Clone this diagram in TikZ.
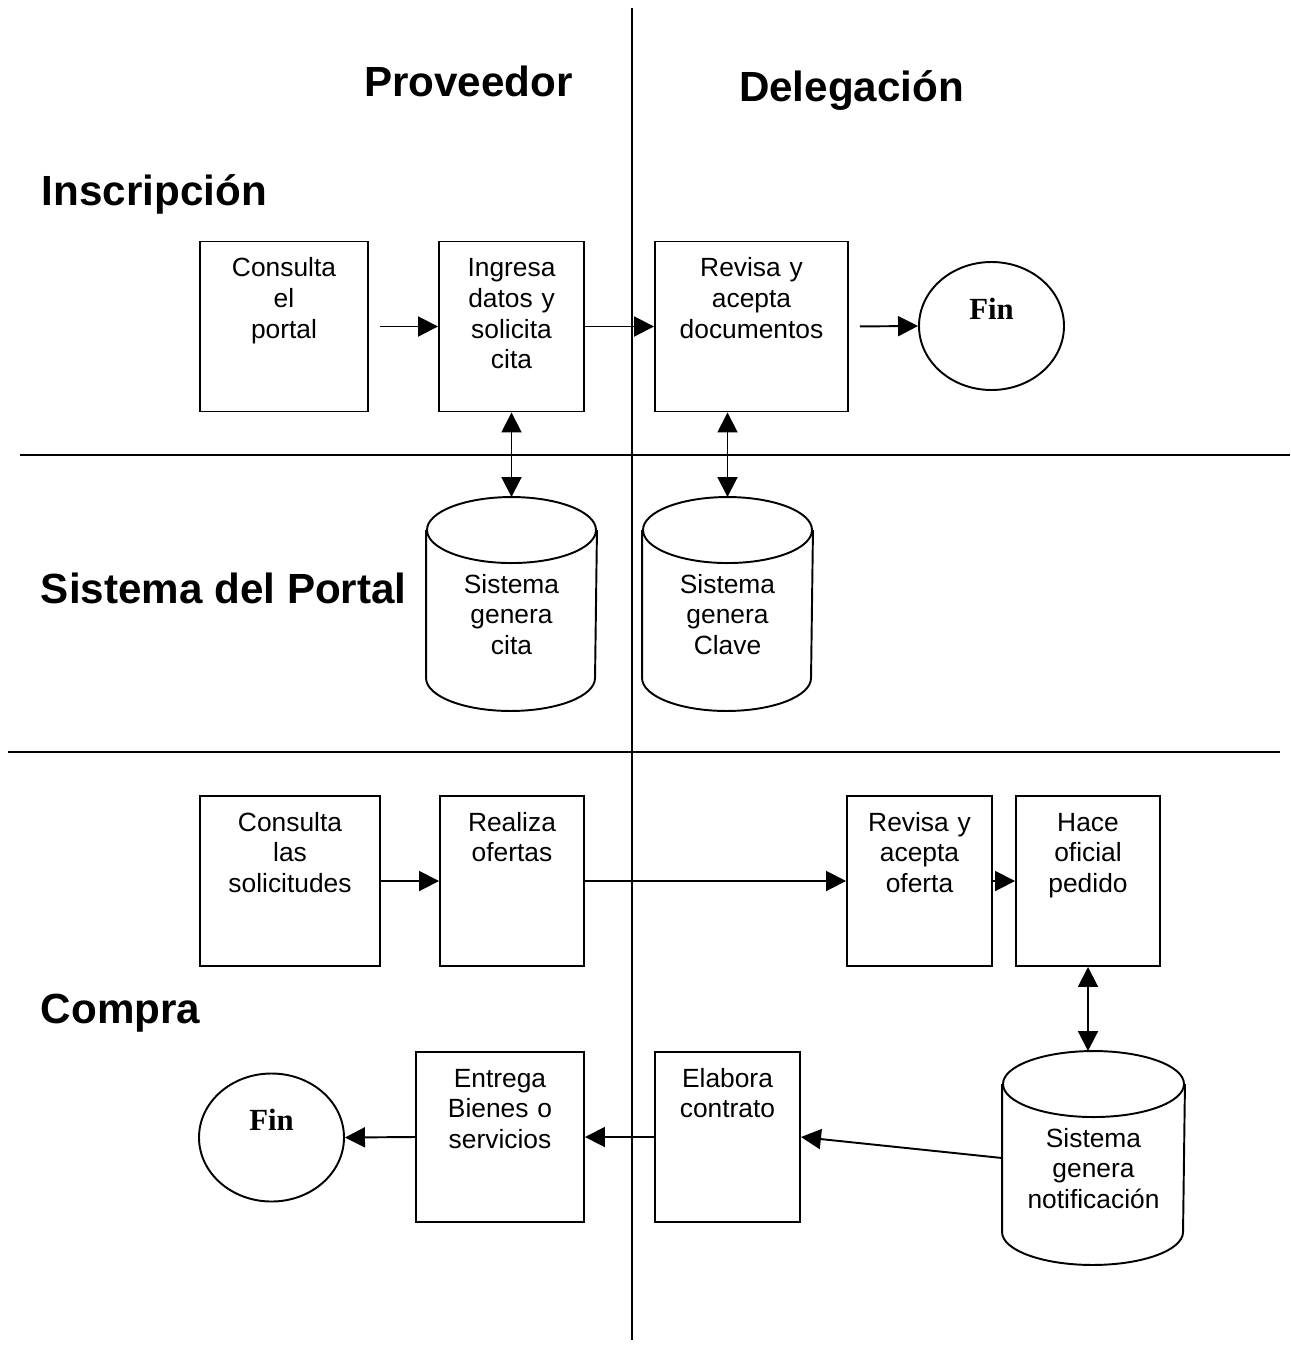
\documentclass[tikz,border=0pt]{standalone}
\usepackage{fontspec}
\setmainfont{Liberation Sans}
\newfontfamily\finfont{Liberation Serif}
\usetikzlibrary{arrows.meta,shapes.geometric}

\begin{document}
\begin{tikzpicture}[x=0.2mm,y=-0.2mm,line width=1.1pt,
  box/.style={draw,inner sep=0pt,align=center,text height=7mm,text depth=27mm,font=\fontsize{15}{17.5}\selectfont},
  cyl/.style={inner sep=0pt,align=center,text height=19mm,text depth=23.4mm,font=\fontsize{15}{17.5}\selectfont},
  fin/.style={draw,ellipse,inner sep=0pt,minimum width=29mm,minimum height=25.6mm,text height=4mm,text depth=6.8mm,font=\finfont\bfseries\fontsize{17.5}{20}\selectfont},
  head/.style={inner sep=0pt,font=\bfseries\fontsize{24}{28}\selectfont},
  arr/.style={-{Triangle[length=4mm,width=4mm]}},
  darr/.style={{Triangle[length=4mm,width=4mm]}-{Triangle[length=4mm,width=4mm]}}]
\useasboundingbox (0,0) rectangle (1290,1348);

\draw (632,8) -- (632,1340);
\draw (20,455) -- (1290,455);
\draw (8,752) -- (1280,752);

\node[head,anchor=base] (prov) at (468.5,96) {Proveedor};
\node[head,anchor=base] (dele) at (851.5,101) {Delegación};
\node[head,anchor=base west] (ins) at (41,205) {Inscripción};
\node[head,anchor=base west] (sis) at (40,603) {Sistema del Portal};
\node[head,anchor=base west] (com) at (40,1023) {Compra};

\node[box,text width=33.6mm] (b1) at (284,326.5) {Consulta\\el\\portal};
\node[box,text width=29mm] (b2) at (511.5,326.5) {Ingresa\\datos y\\solicita\\cita};
\node[box,text width=38.6mm] (b3) at (751.5,326.5) {Revisa y\\acepta\\documentos};
\node[fin] (fin1) at (991.5,326) {Fin};

\node[cyl,text width=33.8mm] (c1) at (511.5,604) {Sistema\\genera\\cita};
\node[cyl,text width=33.8mm] (c2) at (727.5,604) {Sistema\\genera\\Clave};
\node[cyl,text width=36.2mm] (c3) at (1093.5,1158) {Sistema\\genera\\notificación};
\foreach \c/\r in {c1/16.9mm,c2/16.9mm,c3/18.1mm}{
  \draw ([yshift=-6.6mm]\c.north) ellipse [x radius=\r,y radius=6.6mm];
  \draw ([yshift=-6.6mm]\c.north west) -- ([yshift=6.6mm]\c.south west)
    arc [start angle=180,end angle=360,x radius=\r,y radius=6.6mm]
    -- ([yshift=-6.6mm]\c.north east);
}

\node[box,text width=36mm] (k1) at (290,881) {Consulta\\las\\solicitudes};
\node[box,text width=28.8mm] (k2) at (512,881) {Realiza\\ofertas};
\node[box,text width=29mm] (k3) at (919.5,881) {Revisa y\\acepta\\oferta};
\node[box,text width=28.8mm] (k4) at (1088,881) {Hace\\oficial\\pedido};
\node[box,text width=29mm] (k5) at (727.5,1137) {Elabora\\contrato};
\node[box,text width=33.6mm] (k6) at (500,1137) {Entrega\\Bienes o\\servicios};
\node[fin] (fin2) at (271.5,1137.5) {Fin};

\draw[arr,shorten <=2.2mm] (b1.east) -- (b2.west);
\draw[arr] (b2.east) -- (b3.west);
\draw[arr,shorten <=2.2mm] (b3.east) -- (fin1.west);
\draw[darr] (b2.south) -- (c1.north);
\draw[darr] (c2.north |- b3.south) -- (c2.north);

\draw[arr] (k1.east) -- (k2.west);
\draw[arr] (k2.east) -- (k3.west);
\draw[arr] (k3.east) -- (k4.west);
\draw[darr] (k4.south) -- (k4.south |- c3.north);
\draw[arr] (c3.west) -- (k5.east);
\draw[arr] (k5.west) -- (k6.east);
\draw[arr] (k6.west) -- (fin2.east);
\end{tikzpicture}
\end{document}
